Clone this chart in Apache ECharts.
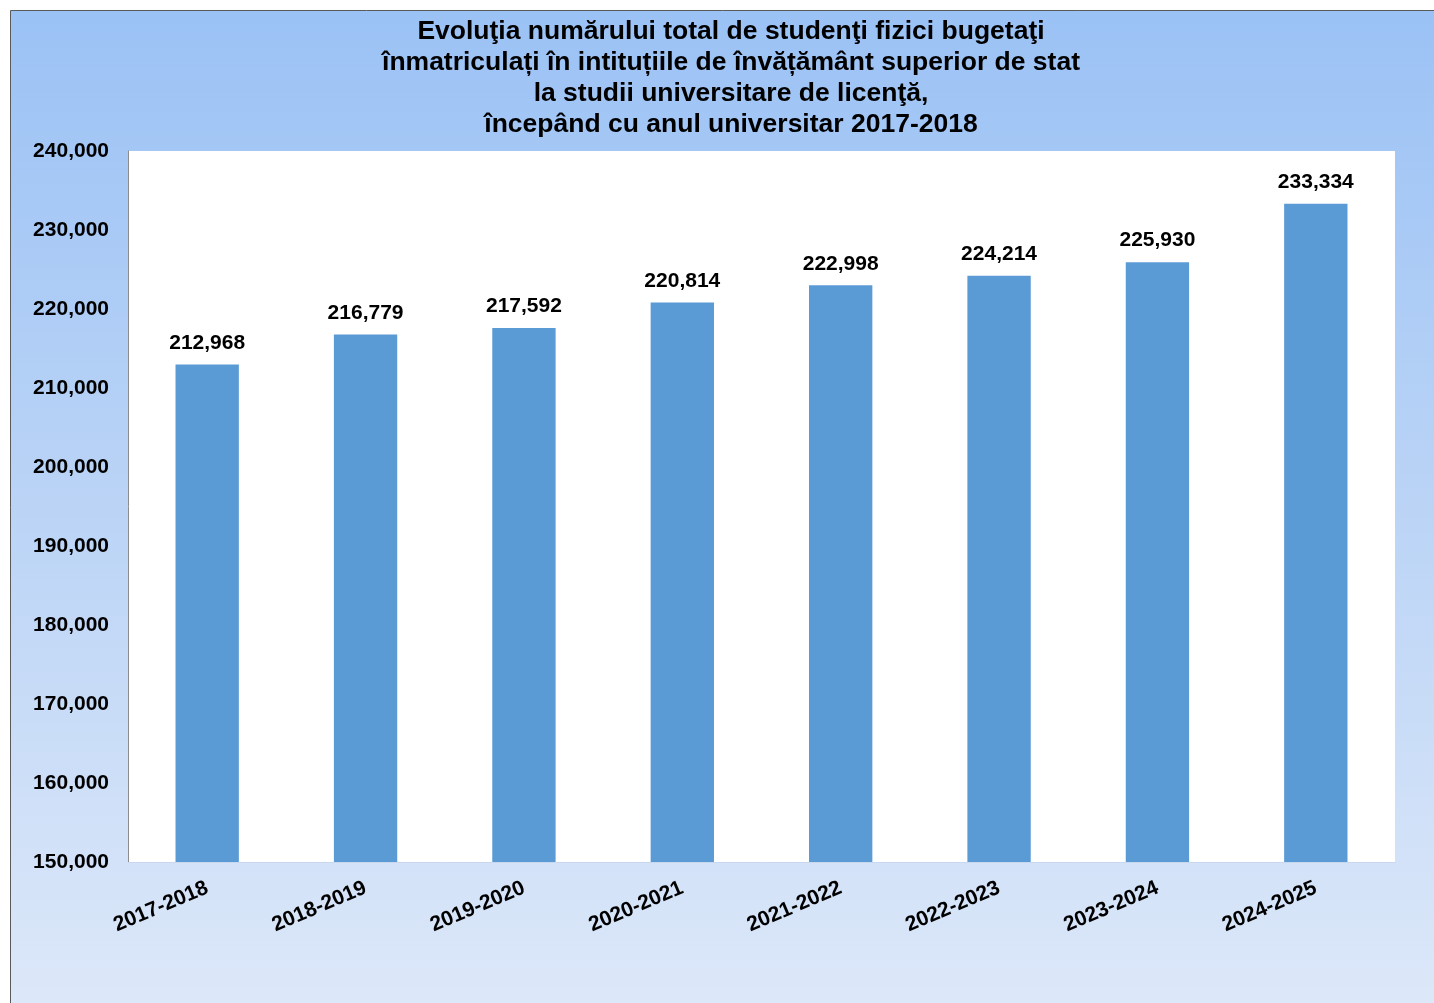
<!DOCTYPE html>
<html><head><meta charset="utf-8">
<script src="https://cdn.jsdelivr.net/npm/echarts@6/dist/echarts.min.js"></script>
<style>html,body{margin:0;padding:0;background:#fff}#c{width:1434px;height:1003px}</style>
</head><body><div id="c"></div>
<script>
const categories = ['2017-2018','2018-2019','2019-2020','2020-2021','2021-2022','2022-2023','2023-2024','2024-2025'];
const values = [212968, 216779, 217592, 220814, 222998, 224214, 225930, 233334];
const titleLines = [
  'Evoluţia numărului total de studenţi fizici bugetaţi',
  'înmatriculați în intituțiile de învățământ superior de stat',
  'la studii universitare de licenţă,',
  'începând cu anul universitar 2017-2018'
];
const yMin = 150000, yMax = 240000, yStep = 10000;
const fmt = v => v.toString().replace(/\B(?=(\d{3})+(?!\d))/g, ',');
const FONT = '"Liberation Sans", Arial, sans-serif';
const chart = echarts.init(document.getElementById('c'), null, {renderer:'canvas'});
chart.setOption({
  backgroundColor: '#ffffff',
  animation: false,
  graphic: [{
    type: 'rect', z: -10, silent: true,
    shape: {x: 10.5, y: 10.5, width: 1440, height: 1000},
    style: {
      fill: new echarts.graphic.LinearGradient(0,0,0,1,[{offset:0,color:'#9BC2F5'},{offset:0.5,color:'#BBD4F6'},{offset:1,color:'#DDE8F9'}]),
      stroke: '#5a5a5a', lineWidth: 1
    }
  }],
  title: {
    text: titleLines.join('\n'),
    left: 726, top: 11, textAlign: 'center',
    textStyle: {fontFamily: FONT, fontWeight: 'bold', fontSize: 26.5, lineHeight: 31, color: '#000'}
  },
  grid: {left: 128, top: 151, right: 39, bottom: 141, show: true, backgroundColor: '#ffffff', borderWidth: 0},
  xAxis: {
    type: 'category', data: categories,
    axisLine: {show: true, lineStyle: {color: '#c8d8ee', width: 1}},
    axisTick: {show: false},
    axisLabel: {rotate: 23, margin: 25, fontFamily: FONT, fontWeight: 'bold', fontSize: 21, color: '#000'}
  },
  yAxis: {
    type: 'value', min: yMin, max: yMax, interval: yStep,
    axisLine: {show: true, lineStyle: {color: '#8c8c8c', width: 1}},
    axisTick: {show: false},
    splitLine: {show: false},
    axisLabel: {margin: 19, formatter: v => fmt(v), fontFamily: FONT, fontWeight: 'bold', fontSize: 21, color: '#000'}
  },
  series: [{
    type: 'bar', data: values, barWidth: '40%',
    itemStyle: {color: '#5B9BD5'},
    label: {show: true, position: 'top', distance: 11, formatter: p => fmt(p.value), fontFamily: FONT, fontWeight: 'bold', fontSize: 21, color: '#000'}
  }]
});
</script></body></html>
